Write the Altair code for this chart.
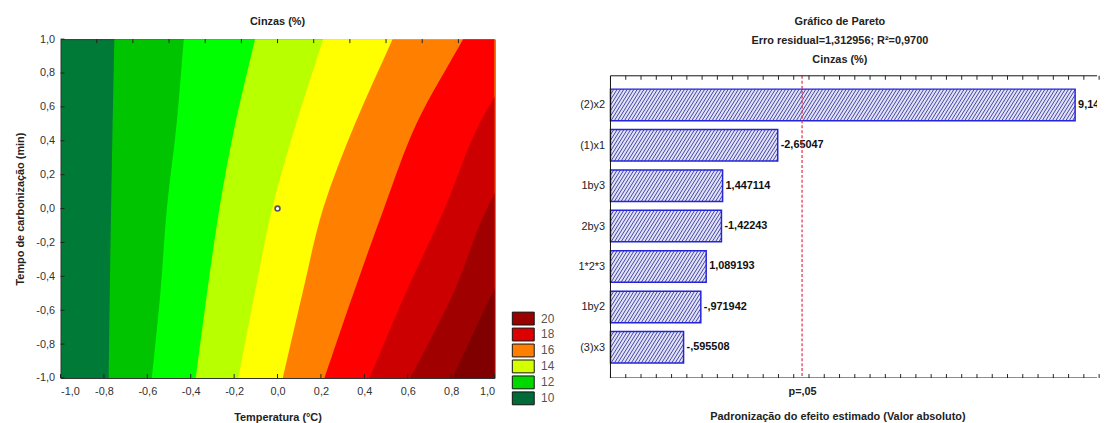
import altair as alt
import pandas as pd
import numpy as np

# ---------------- contour plot data (Cinzas %) ----------------
# x-position of each colour boundary, read at these y values
y_levels = [-1.0, -0.5, 0.0, 0.5, 1.0]
boundary_1 = [-0.778, -0.773, -0.767, -0.760, -0.752]
boundary_2 = [-0.579, -0.540, -0.510, -0.465, -0.432]
boundary_3 = [-0.376, -0.325, -0.268, -0.195, -0.104]
boundary_4 = [-0.180, -0.105, -0.025, 0.085, 0.210]
boundary_5 = [0.025, 0.115, 0.210, 0.357, 0.530]
boundary_6 = [0.217, 0.350, 0.490, 0.640, 0.855]
boundary_7 = [0.425, 0.590, 0.770, 0.930, 1.170]
boundary_8 = [0.612, 0.810, 0.965, 1.190, 1.490]
boundary_9 = [0.808, 0.990, 1.200, 1.470, 1.810]
band_colors = ["#007a37", "#00c400", "#00ff00", "#b8ff00", "#ffff00",
               "#ff8000", "#ff0000", "#cc0000", "#a00000", "#800000"]
center_x = [0.0]
center_y = [0.0]
axis_ticks = [-1.0, -0.8, -0.6, -0.4, -0.2, 0.0, 0.2, 0.4, 0.6, 0.8, 1.0]
top_ticks = [-1 + k / 6 for k in range(1, 12)]
legend_levels = ["20", "18", "16", "14", "12", "10"]
legend_colors = ["#990000", "#dd0000", "#ff8000", "#d4ff00", "#00d800", "#006b38"]

# ---------------- Pareto data ----------------
effects = ["(2)x2", "(1)x1", "1by3", "2by3", "1*2*3", "1by2", "(3)x3"]
effect_values = [9.14235, -2.65047, 1.447114, -1.42243, 1.089193, -0.971942, -0.595508]
p_crit = 3.182
p_label = "p=,05"

FONT = "Liberation Sans"

# ---------------- contour chart ----------------
W1, H1 = 438, 342
boundaries = [boundary_1, boundary_2, boundary_3, boundary_4, boundary_5,
              boundary_6, boundary_7, boundary_8, boundary_9]
rows = []
for k, b in enumerate(boundaries, start=1):
    for yv, xv in zip(y_levels, b):
        rows.append({"band": k, "by": yv, "bx": xv})
    # continue the curve straight on above the (clipped) top edge, then far to the right,
    # so the area also covers the corner beyond the curve
    step = b[-1] - b[-2]
    rows.append({"band": k, "by": 1.5, "bx": b[-1] + step})
    rows.append({"band": k, "by": 3.0, "bx": b[-1] + 4 * step})
    rows.append({"band": k, "by": 3.0, "bx": 4.0})
bands_df = pd.DataFrame(rows)

xsc = alt.Scale(domain=[-1, 1], nice=False, zero=False)
ysc = alt.Scale(domain=[-1, 1], nice=False, zero=False)
comma_expr = "(datum.value < 0 ? '-' : '') + replace(format(abs(datum.value), '.1f'), '.', ',')"

cx_axis = alt.Axis(values=axis_ticks, labelExpr=comma_expr, title="Temperatura (°C)",
                   ticks=False, domain=False, grid=False, labelPadding=8,
                   labelFontSize=11, labelColor="#333", titleFontSize=11,
                   titleFontWeight="bold", titlePadding=15, titleColor="#222")
cy_axis = alt.Axis(values=axis_ticks, labelExpr=comma_expr, title="Tempo de carbonização (min)",
                   ticks=False, domain=False, grid=False, labelPadding=6,
                   labelFontSize=11, labelColor="#333", titleFontSize=11,
                   titleFontWeight="bold", titlePadding=10, titleColor="#222")

layers = []
for k in range(1, 10):
    layers.append(
        alt.Chart(bands_df).transform_filter(alt.datum.band == k)
        .mark_area(interpolate="catmull-rom", clip=True, color=band_colors[k], opacity=1)
        .encode(x=alt.X("bx:Q", scale=xsc, axis=cx_axis),
                y=alt.Y("by:Q", scale=ysc, axis=cy_axis, stack=None),
                y2=alt.Y2Datum(-1.0))
    )

ticks_df = pd.DataFrame({"t": axis_ticks})
top_df = pd.DataFrame({"t": top_ticks})
bottom_ticks = alt.Chart(ticks_df).mark_rule(color="#222").encode(
    x=alt.X("t:Q", scale=xsc, axis=cx_axis), y=alt.value(H1 - 4), y2=alt.value(H1))
top_tick_layer = alt.Chart(top_df).mark_rule(color="#222").encode(
    x=alt.X("t:Q", scale=xsc, axis=cx_axis), y=alt.value(0), y2=alt.value(4))
left_ticks = alt.Chart(ticks_df).mark_rule(color="#222").encode(
    y=alt.Y("t:Q", scale=ysc, axis=cy_axis), x=alt.value(0), x2=alt.value(4))

center = alt.Chart(pd.DataFrame({"x": center_x, "y": center_y})).mark_point(
    shape="circle", size=24, filled=False, stroke="#505070", strokeWidth=1.6,
    fill="white", fillOpacity=1, opacity=1).encode(
    x=alt.X("x:Q", scale=xsc, axis=cx_axis), y=alt.Y("y:Q", scale=ysc, axis=cy_axis))

legend_df = pd.DataFrame({"level": legend_levels})
legend_layer = alt.Chart(legend_df).mark_square(opacity=0).encode(
    x=alt.value(0), y=alt.value(0),
    color=alt.Color("level:N",
                    scale=alt.Scale(domain=legend_levels, range=legend_colors),
                    legend=alt.Legend(orient="none", legendX=460, legendY=275, title=None,
                                      symbolType="M-1.7,-1H1.7V1H-1.7Z", symbolSize=169,
                                      symbolStrokeColor="#111", symbolStrokeWidth=1,
                                      symbolOpacity=1,
                                      labelFontSize=12, labelColor="#555", labelOffset=11,
                                      rowPadding=-1.9, labelFont=FONT)))

left = alt.layer(*layers, bottom_ticks, top_tick_layer, left_ticks, center, legend_layer).properties(
    width=W1, height=H1,
    title=alt.Title("Cinzas (%)", fontSize=11, fontWeight="bold", offset=6.5, color="#222"),
    view=alt.ViewBackground(fill=band_colors[0], stroke="#333", strokeWidth=1),
)

# ---------------- Pareto chart ----------------
W2, H2 = 491, 342
RANGE_TOP = 37           # plot frame starts this far below the panel top
PX_PER_UNIT = 46.23
XMIN = -1.0
XMAX = XMIN + W2 / PX_PER_UNIT
YMIN, YMAX = -0.72, 6.76
HALF = 0.39


def stat_label(v):
    s = f"{v:.6f}".rstrip("0").rstrip(".")
    s = s.replace("-0.", "-.")
    if s.startswith("0."):
        s = s[1:]
    return s.replace(".", ",")


par_df = pd.DataFrame({
    "effect": effects,
    "idx": list(range(len(effects))),
    "absval": [abs(v) for v in effect_values],
    "label": [stat_label(v) for v in effect_values],
})
par_df["ytop"] = par_df["idx"] - HALF
par_df["ybot"] = par_df["idx"] + HALF

px_x = W2 / (XMAX - XMIN)
px_y = (H2 - RANGE_TOP) / (YMAX - YMIN)

# hatch lines inside each bar (derived from the bar extents)
hatch_rows = []
for i, v in enumerate(par_df["absval"]):
    R = (v - XMIN) * px_x
    h = 2 * HALF * px_y
    run = h * np.tan(np.radians(32))
    xb = -run
    while xb < R:
        t0 = max(0.0, (0 - xb) / run)
        t1 = min(1.0, (R - xb) / run)
        if t1 > t0:
            hatch_rows.append({
                "hx": XMIN + (xb + run * t0) / px_x,
                "hx2": XMIN + (xb + run * t1) / px_x,
                "hy": (i + HALF) - 2 * HALF * t0,
                "hy2": (i + HALF) - 2 * HALF * t1,
            })
        xb += 3.4
hatch_df = pd.DataFrame(hatch_rows)

pxs = alt.Scale(domain=[XMIN, XMAX], nice=False, zero=False)
pys = alt.Scale(domain=[YMIN, YMAX], nice=False, zero=False, range=[RANGE_TOP, H2])
label_lookup = "[" + ",".join("'" + e + "'" for e in effects) + "][datum.value]"

px_axis = alt.Axis(values=[p_crit], labelExpr="'" + p_label + "'", ticks=False, domain=False,
                   grid=False, labelPadding=8, labelFontSize=11, labelFontWeight="bold",
                   labelColor="#222",
                   title="Padronização do efeito estimado (Valor absoluto)",
                   titleFontSize=11, titleFontWeight="bold", titlePadding=14,
                   titleColor="#222", titleX=229)
py_axis = alt.Axis(values=list(range(len(effects))), labelExpr=label_lookup, ticks=False,
                   domain=False, grid=False, labelPadding=6, labelFontSize=11,
                   labelColor="#222", title=None)

bars_fill = alt.Chart(par_df).mark_rect(fill="#e2e2f6").encode(
    x=alt.X("absval:Q", scale=pxs, axis=px_axis), x2=alt.X2Datum(XMIN),
    y=alt.Y("ytop:Q", scale=pys, axis=py_axis), y2="ybot:Q")
hatch = alt.Chart(hatch_df).mark_rule(color="#4444a6", strokeWidth=1).encode(
    x=alt.X("hx:Q", scale=pxs, axis=px_axis), x2="hx2:Q",
    y=alt.Y("hy:Q", scale=pys, axis=py_axis), y2="hy2:Q")
bars_outline = alt.Chart(par_df).mark_rect(fillOpacity=0, stroke="#2424dc", strokeWidth=1.5).encode(
    x=alt.X("absval:Q", scale=pxs, axis=px_axis), x2=alt.X2Datum(XMIN),
    y=alt.Y("ytop:Q", scale=pys, axis=py_axis), y2="ybot:Q")
labels = alt.Chart(par_df).mark_text(align="left", baseline="middle", dx=3, fontSize=11,
                                     fontWeight="bold", color="#111", clip=True).encode(
    x=alt.X("absval:Q", scale=pxs, axis=px_axis),
    y=alt.Y("idx:Q", scale=pys, axis=py_axis), text="label:N")
pline = alt.Chart(pd.DataFrame({"p": [p_crit]})).mark_rule(
    color="#e0304a", strokeDash=[3, 2], strokeWidth=1.2).encode(
    x=alt.X("p:Q", scale=pxs, axis=px_axis),
    y=alt.YDatum(YMIN, scale=pys, axis=py_axis), y2=alt.Y2Datum(YMAX))

ptick_vals = [XMIN + k / 3 for k in range(0, 33)]
ptick_df = pd.DataFrame({"t": ptick_vals})
tick_len = 4 / px_y
ptop = alt.Chart(ptick_df).mark_rule(color="#222").encode(
    x=alt.X("t:Q", scale=pxs, axis=px_axis),
    y=alt.YDatum(YMIN, scale=pys, axis=py_axis), y2=alt.Y2Datum(YMIN + tick_len))
pbot = alt.Chart(ptick_df).mark_rule(color="#222").encode(
    x=alt.X("t:Q", scale=pxs, axis=px_axis),
    y=alt.YDatum(YMAX - tick_len, scale=pys, axis=py_axis), y2=alt.Y2Datum(YMAX))

frame_df = pd.DataFrame({"fx": [XMIN], "fx2": [XMAX + 1]})
top_border = alt.Chart(frame_df).mark_rule(color="#111", clip=True).encode(
    x=alt.X("fx:Q", scale=pxs, axis=px_axis), x2="fx2:Q",
    y=alt.YDatum(YMIN, scale=pys, axis=py_axis))
bottom_border = alt.Chart(frame_df).mark_rule(color="#111", clip=True).encode(
    x=alt.X("fx:Q", scale=pxs, axis=px_axis), x2="fx2:Q",
    y=alt.YDatum(YMAX, scale=pys, axis=py_axis))
left_border = alt.Chart(frame_df).mark_rule(color="#111").encode(
    x=alt.X("fx:Q", scale=pxs, axis=px_axis),
    y=alt.YDatum(YMIN, scale=pys, axis=py_axis), y2=alt.Y2Datum(YMAX))

right = alt.layer(bars_fill, hatch, bars_outline, labels, pline, ptop, pbot,
                  top_border, bottom_border, left_border).properties(
    width=W2, height=H2,
    title=alt.Title(["Gráfico de Pareto", "Erro residual=1,312956; R²=0,9700", "Cinzas (%)"],
                    fontSize=11, fontWeight="bold", lineHeight=19, offset=-26, dx=-14,
                    color="#222"),
    view=alt.ViewBackground(fill="white", strokeOpacity=0),
)

chart = alt.hconcat(left, right, spacing=83).properties(
    padding={"left": 6, "top": 5.5, "right": 0, "bottom": 0}
).configure(font=FONT).configure_title(font=FONT).configure_axis(labelFont=FONT, titleFont=FONT)

chart.save("out.html", embed_options={"renderer": "svg", "actions": False})
